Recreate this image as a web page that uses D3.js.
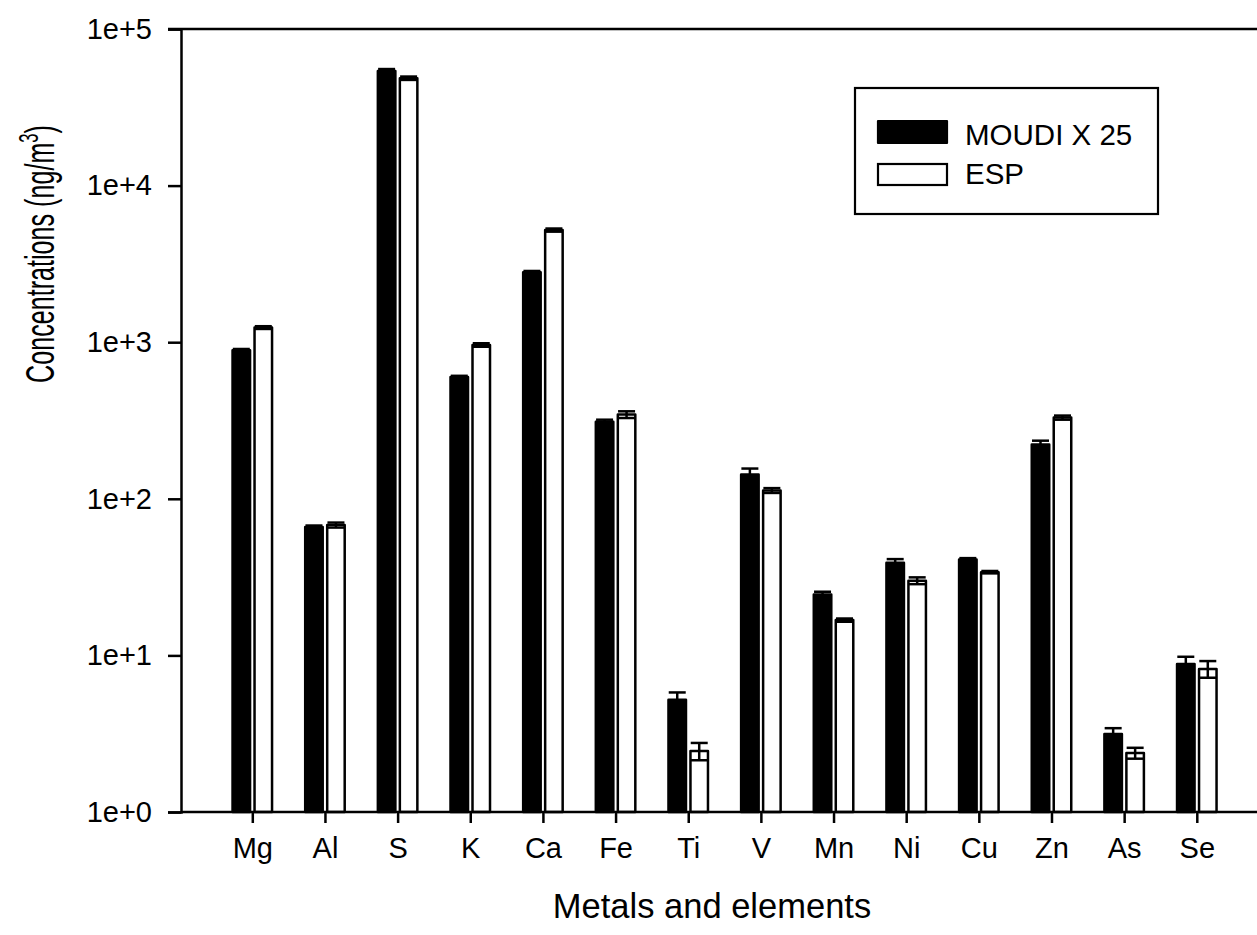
<!DOCTYPE html>
<html>
<head>
<meta charset="utf-8">
<script src="https://cdn.jsdelivr.net/npm/d3@7"></script>
<style>
  html, body { margin: 0; padding: 0; background: #fff; }
  svg { display: block; font-family: "Liberation Sans", Arial, Helvetica, sans-serif; }
</style>
</head>
<body>
<svg id="chart" width="1257" height="935"></svg>
<script>
const categories = ["Mg", "Al", "S", "K", "Ca", "Fe", "Ti", "V", "Mn", "Ni", "Cu", "Zn", "As", "Se"];
const seriesNames = ["MOUDI X 25", "ESP"];
const moudiValues = [890, 66, 54000, 600, 2800, 310, 5.2, 143, 24.5, 39, 41, 222, 3.15, 8.8];
const moudiErrors = [15, 1.5, 1500, 10, 50, 10, 0.6, 13, 1.0, 2.2, 0.8, 13, 0.28, 1.0];
const espValues = [1240, 68, 48500, 960, 5200, 345, 2.45, 113, 16.8, 30, 34, 330, 2.38, 8.2];
const espErrors = [25, 2.5, 1200, 25, 120, 17, 0.31, 4, 0.4, 1.5, 0.6, 10, 0.19, 1.0];
const yTickValues = [1, 10, 100, 1000, 10000, 100000];
const yTickLabels = ["1e+0", "1e+1", "1e+2", "1e+3", "1e+4", "1e+5"];

(function () {
const svg = d3.select("#chart");
const mLeft = 181, mTop = 29, mBottom = 812, mRight = 1270;

const y = d3.scaleLog().domain([1, 1e5]).range([mBottom, mTop]);
const x = d3.scalePoint().domain(categories).range([252.3, 1196.8]);
const xSub = d3.scaleBand().domain(seriesNames).range([-21, 21]).paddingInner(0.09);

const sw = 2.5;
const data = [];
categories.forEach((c, i) => {
  data.push({cat: c, s: seriesNames[0], v: moudiValues[i], e: moudiErrors[i], fill: "#000"});
  data.push({cat: c, s: seriesNames[1], v: espValues[i], e: espErrors[i], fill: "#fff"});
});

// bars
const g = svg.append("g");
g.selectAll("rect.bar").data(data).enter().append("rect")
  .attr("class", "bar")
  .attr("x", d => x(d.cat) + xSub(d.s) + sw / 2)
  .attr("width", xSub.bandwidth() - sw)
  .attr("y", d => y(d.v))
  .attr("height", d => y(1) - y(d.v))
  .attr("fill", d => d.fill)
  .attr("stroke", "#000")
  .attr("stroke-width", sw)
  .attr("stroke-linejoin", "round");

// error bars
const eg = svg.append("g").attr("stroke", "#000").attr("stroke-width", sw).attr("fill", "none");
data.forEach(d => {
  const cx = x(d.cat) + xSub(d.s) + xSub.bandwidth() / 2;
  const capHalf = 8.5;
  const yHi = y(d.v + d.e), yLo = y(Math.max(d.v - d.e, 1));
  eg.append("line").attr("x1", cx).attr("x2", cx).attr("y1", yHi).attr("y2", yLo);
  eg.append("line").attr("x1", cx - capHalf).attr("x2", cx + capHalf).attr("y1", yHi).attr("y2", yHi);
  eg.append("line").attr("x1", cx - capHalf).attr("x2", cx + capHalf).attr("y1", yLo).attr("y2", yLo);
});

// frame
const fg = svg.append("g").attr("stroke", "#000").attr("stroke-width", 2.5).attr("fill", "none");
fg.append("line").attr("x1", 168).attr("x2", mRight).attr("y1", mTop).attr("y2", mTop);
fg.append("line").attr("x1", mLeft).attr("x2", mRight).attr("y1", mBottom).attr("y2", mBottom);

// y axis
const yAxis = d3.axisLeft(y).tickValues(yTickValues)
  .tickFormat((d, i) => yTickLabels[i]).tickSizeOuter(0).tickSize(13).tickPadding(16);
const ya = svg.append("g").attr("transform", `translate(${mLeft},0)`).call(yAxis);
ya.select(".domain").attr("stroke-width", 2.5);
ya.selectAll(".tick line").attr("stroke-width", 2.5);
ya.selectAll(".tick text").attr("font-size", 29).attr("fill", "#000")
  .attr("font-family", "'Liberation Sans', Arial, sans-serif");

// x axis
const xAxis = d3.axisBottom(x).tickSizeOuter(0).tickSize(11).tickPadding(14);
const xa = svg.append("g").attr("transform", `translate(0,${mBottom})`).call(xAxis);
xa.select(".domain").remove();
xa.selectAll(".tick line").attr("stroke-width", 2.5);
xa.selectAll(".tick text").attr("font-size", 29).attr("fill", "#000")
  .attr("font-family", "'Liberation Sans', Arial, sans-serif");

// axis titles
svg.append("text").attr("x", 712).attr("y", 918).attr("text-anchor", "middle")
  .attr("font-size", 34.5).attr("fill", "#000").text("Metals and elements");

const yt = svg.append("text").attr("text-anchor", "middle").attr("font-size", 41).attr("fill", "#000");
yt.append("tspan").text("Concentrations (ng/m");
yt.append("tspan").attr("font-size", 27).attr("dy", -16).text("3");
yt.append("tspan").attr("dy", 16).text(")");
const natLen = yt.node().getComputedTextLength();
const targetLen = 258;
yt.attr("transform", `translate(54,254) rotate(-90) scale(${targetLen / natLen},1)`);

// legend
const lg = svg.append("g");
lg.append("rect").attr("x", 855).attr("y", 88).attr("width", 303).attr("height", 126)
  .attr("fill", "#fff").attr("stroke", "#000").attr("stroke-width", 2.2);
lg.append("rect").attr("x", 878).attr("y", 121).attr("width", 69).attr("height", 22)
  .attr("fill", "#000").attr("stroke", "#000").attr("stroke-width", 2.2).attr("stroke-linejoin", "round");
lg.append("rect").attr("x", 878).attr("y", 164).attr("width", 69).attr("height", 21)
  .attr("fill", "#fff").attr("stroke", "#000").attr("stroke-width", 2.2);
lg.append("text").attr("x", 965).attr("y", 145).attr("font-size", 29.5).attr("fill", "#000").text(seriesNames[0]);
lg.append("text").attr("x", 965).attr("y", 184).attr("font-size", 29.5).attr("fill", "#000").text(seriesNames[1]);
})();
</script>
</body>
</html>
